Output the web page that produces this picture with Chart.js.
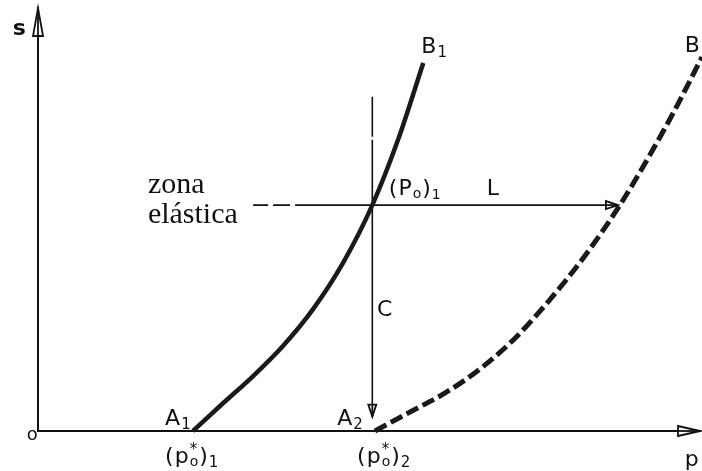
<!DOCTYPE html>
<html><head><meta charset="utf-8">
<script src="https://cdn.jsdelivr.net/npm/chart.js@4.4.1/dist/chart.umd.min.js"></script>
<style>html,body{margin:0;padding:0;background:#fff}</style>
</head><body>
<canvas id="c" width="702" height="471"></canvas>
<script>
// Curve A1-B1 (solid): p values and s values
const curve1P = [23.4, 27.9, 32.5, 37.0, 41.5, 46.1, 50.5, 54.4, 58.2];
const curve1S = [0, 6.5, 13.0, 20.1, 28.7, 39.8, 53.4, 68.9, 87.0];
// Curve A2-B (dashed)
const curve2P = [50.9, 56.2, 61.5, 66.8, 72.1, 77.3, 82.6, 87.9, 92.4, 96.2, 100.3];
const curve2S = [0, 4.5, 9.0, 14.7, 22.0, 31.0, 41.4, 53.4, 65.2, 75.9, 88.4];
// (p_o)_1 point
const po1 = 50.5, so1 = 53.4;
// vertical line C (s values at p = po1)
const lineCS = [79, so1, 3.4];
// horizontal line L (p values at s = so1)
const lineLP = [32.5, po1, 87.6];
// text labels
const SANS = '"DejaVu Sans", sans-serif';
const SERIF = '"Liberation Serif", serif';
const labels = [
  {parts: [['s', 'bold 22px ' + SANS, 0]], p: -3.8, s: 93.6},
  {parts: [['o', '18px ' + SANS, 0]], p: -1.7, s: -2.1},
  {parts: [['B', '22px ' + SANS, 0], ['1', '15px ' + SANS, 4]], p: 57.9, s: 89.4},
  {parts: [['B', '22px ' + SANS, 0]], p: 97.7, s: 89.6},
  {parts: [['zona', '30px ' + SERIF, 0]], p: 16.6, s: 56.3},
  {parts: [['elástica', '30px ' + SERIF, 0]], p: 16.6, s: 49.2},
  {parts: [['(', '22px ' + SANS, 0], ['P', '22px ' + SANS, 0], ['o', '14px ' + SANS, 3], [')', '22px ' + SANS, 0], ['1', '14px ' + SANS, 4]], p: 53.0, s: 55.8},
  {parts: [['L', '22px ' + SANS, 0]], p: 67.8, s: 55.8},
  {parts: [['C', '22px ' + SANS, 0]], p: 51.2, s: 27.2},
  {parts: [['A', '22px ' + SANS, 0], ['1', '15px ' + SANS, 4]], p: 19.2, s: 1.4},
  {parts: [['A', '22px ' + SANS, 0], ['2', '15px ' + SANS, 4]], p: 45.2, s: 1.4},
  {parts: [['(', '22px ' + SANS, 0], ['p', '22px ' + SANS, 0], ['*', '15px ' + SANS, -9, 'noadv'], ['o', '14px ' + SANS, 3], [')', '22px ' + SANS, 0], ['1', '15px ' + SANS, 4]], p: 19.2, s: -7.6},
  {parts: [['(', '22px ' + SANS, 0], ['p', '22px ' + SANS, 0], ['*', '15px ' + SANS, -9, 'noadv'], ['o', '14px ' + SANS, 3], [')', '22px ' + SANS, 0], ['2', '15px ' + SANS, 4]], p: 48.2, s: -7.6},
  {parts: [['p', '22px ' + SANS, 0]], p: 97.7, s: -8.3}
];

const zip = (xs, ys) => xs.map((x, i) => ({x: x, y: ys[i]}));

function arrowHead(ctx, tip, from, len, hw) {
  const dx = tip.x - from.x, dy = tip.y - from.y;
  const d = Math.hypot(dx, dy) || 1;
  const ux = dx / d, uy = dy / d;
  const bx = tip.x - ux * len, by = tip.y - uy * len;
  ctx.beginPath();
  ctx.moveTo(tip.x, tip.y);
  ctx.lineTo(bx - uy * hw, by + ux * hw);
  ctx.lineTo(bx + uy * hw, by - ux * hw);
  ctx.closePath();
  ctx.fillStyle = '#fff';
  ctx.fill();
  ctx.lineWidth = 1.8;
  ctx.strokeStyle = '#111';
  ctx.stroke();
  ctx.beginPath();
  ctx.moveTo(tip.x, tip.y);
  ctx.lineTo(bx, by);
  ctx.stroke();
}

const decor = {
  id: 'decor',
  afterDatasetsDraw(chart) {
    const ctx = chart.ctx;
    const xs = chart.scales.x, ys = chart.scales.y;
    ctx.save();
    const x0 = xs.getPixelForValue(0), y0 = ys.getPixelForValue(0);
    arrowHead(ctx, {x: x0, y: ys.getPixelForValue(100)}, {x: x0, y: y0}, 28, 5);
    arrowHead(ctx, {x: xs.getPixelForValue(100), y: y0}, {x: x0, y: y0}, 22, 5);
    chart.data.datasets.forEach((ds, i) => {
      if (!ds.arrow) return;
      const pts = chart.getDatasetMeta(i).data;
      const a = pts[pts.length - 1], b = pts[pts.length - 2];
      arrowHead(ctx, {x: a.x, y: a.y}, {x: b.x, y: b.y}, 12, 4);
    });
    ctx.fillStyle = '#111';
    ctx.textBaseline = 'alphabetic';
    ctx.textAlign = 'left';
    labels.forEach(l => {
      let x = xs.getPixelForValue(l.p);
      const y = ys.getPixelForValue(l.s);
      l.parts.forEach(pt => {
        ctx.font = pt[1];
        ctx.fillText(pt[0], x, y + pt[2]);
        if (pt[3] !== 'noadv') x += ctx.measureText(pt[0]).width + 1;
      });
    });
    ctx.restore();
  }
};

new Chart(document.getElementById('c'), {
  type: 'scatter',
  data: {
    datasets: [
      {data: zip(curve1P, curve1S), showLine: true, borderColor: '#1a1a1a', borderWidth: 4.5, pointRadius: 0, cubicInterpolationMode: 'monotone', clip: false},
      {data: zip(curve1P, curve1S), showLine: true, borderColor: '#9a9a9a', borderWidth: 1, pointRadius: 0, cubicInterpolationMode: 'monotone', clip: false},
      {data: zip(curve2P, curve2S), showLine: true, borderColor: '#1a1a1a', borderWidth: 5, borderDash: [13, 5], pointRadius: 0, cubicInterpolationMode: 'monotone', clip: false},
      {data: zip([po1, po1, po1], lineCS), showLine: true, borderColor: '#111', borderWidth: 1.6, borderDash: [40, 3, 400, 0], pointRadius: 0, clip: false, arrow: true},
      {data: zip(lineLP, [so1, so1, so1]), showLine: true, borderColor: '#111', borderWidth: 1.6, borderDash: [15, 5, 17, 5, 600, 0], pointRadius: 0, clip: false, arrow: true}
    ]
  },
  options: {
    responsive: false,
    animation: false,
    layout: {padding: {left: 30, top: 8, right: 2, bottom: 32}},
    plugins: {legend: {display: false}, tooltip: {enabled: false}},
    scales: {
      x: {type: 'linear', min: 0, max: 100, grid: {display: false}, ticks: {display: false}, border: {display: true, color: '#111', width: 2}},
      y: {type: 'linear', min: 0, max: 100, grid: {display: false}, ticks: {display: false}, border: {display: true, color: '#111', width: 2}}
    }
  },
  plugins: [decor]
});
</script>
</body></html>
